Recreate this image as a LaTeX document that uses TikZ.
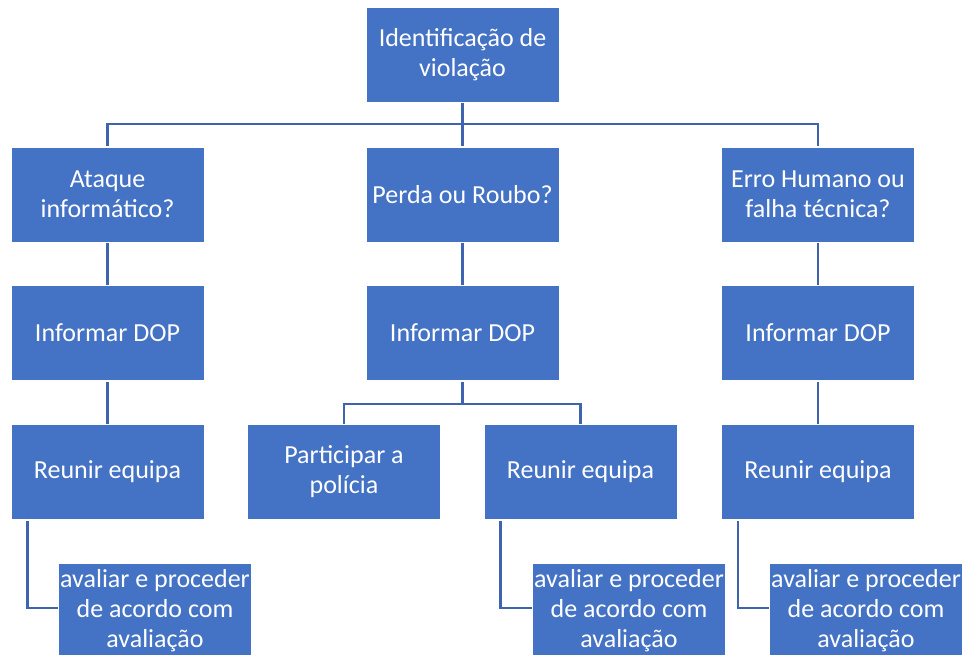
\documentclass[tikz,border=0pt]{standalone}
\usepackage{fontspec}
\setmainfont{Carlito}
\definecolor{caixa}{HTML}{4472C4}
\definecolor{linha}{HTML}{3F63AE}
\begin{document}
\begin{tikzpicture}[x=1pt,y=1pt,
	caixa/.style={rectangle,fill=caixa,draw=white,line width=0.8pt,minimum width=193pt,minimum height=95pt,
		inner sep=1pt,align=center,text=white,font=\fontsize{26}{30}\selectfont},
	liga/.style={draw=linha,line width=2.6pt}]
	\useasboundingbox (0,0) rectangle (966,-655);
	% nivel 1
	\node[caixa] (id) at (462.5,-55) {Identificação de\\violação};
	% nivel 2
	\node[caixa] (at) at (107.5,-194.5) {Ataque\\informático?};
	\node[caixa] (pr) at (462.5,-194.5) {Perda ou Roubo?};
	\node[caixa] (eh) at (818,-194.5) {Erro Humano ou\\falha técnica?};
	% nivel 3
	\node[caixa] (i1) at (107.5,-333) {Informar DOP};
	\node[caixa] (i2) at (462.5,-333) {Informar DOP};
	\node[caixa] (i3) at (818,-333) {Informar DOP};
	% nivel 4
	\node[caixa] (r1) at (107.5,-472) {Reunir equipa};
	\node[caixa] (pp) at (344,-472) {Participar a\\polícia};
	\node[caixa] (r2) at (580.5,-472) {Reunir equipa};
	\node[caixa] (r3) at (818,-472) {Reunir equipa};
	% nivel 5
	\node[caixa] (a1) at (155,-611) {avaliar e proceder\\de acordo com\\avaliação};
	\node[caixa] (a2) at (629,-611) {avaliar e proceder\\de acordo com\\avaliação};
	\node[caixa] (a3) at (866,-611) {avaliar e proceder\\de acordo com\\avaliação};
	% ligacoes
	\draw[liga] (id.south) -- (pr.north);
	\draw[liga] (id.south) ++(0,-21) -| (at.north);
	\draw[liga] (id.south) ++(0,-21) -| (eh.north);
	\draw[liga] (at) -- (i1);
	\draw[liga] (pr) -- (i2);
	\draw[liga] (eh) -- (i3);
	\draw[liga] (i1) -- (r1);
	\draw[liga] (i3) -- (r3);
	\draw[liga] (i2.south) -- ++(0,-23) -| (pp.north);
	\draw[liga] (i2.south) ++(0,-23) -| (r2.north);
	\draw[liga] ([xshift=17pt]r1.south west) |- ([yshift=3pt]a1.west);
	\draw[liga] ([xshift=17pt]r2.south west) |- ([yshift=3pt]a2.west);
	\draw[liga] ([xshift=17pt]r3.south west) |- ([yshift=3pt]a3.west);
	% caixas por cima das ligacoes
	\foreach \n in {id,at,pr,eh,i1,i2,i3,r1,pp,r2,r3,a1,a2,a3}
		\draw[draw=white,line width=0.8pt] (\n.south west) rectangle (\n.north east);
\end{tikzpicture}
\end{document}
